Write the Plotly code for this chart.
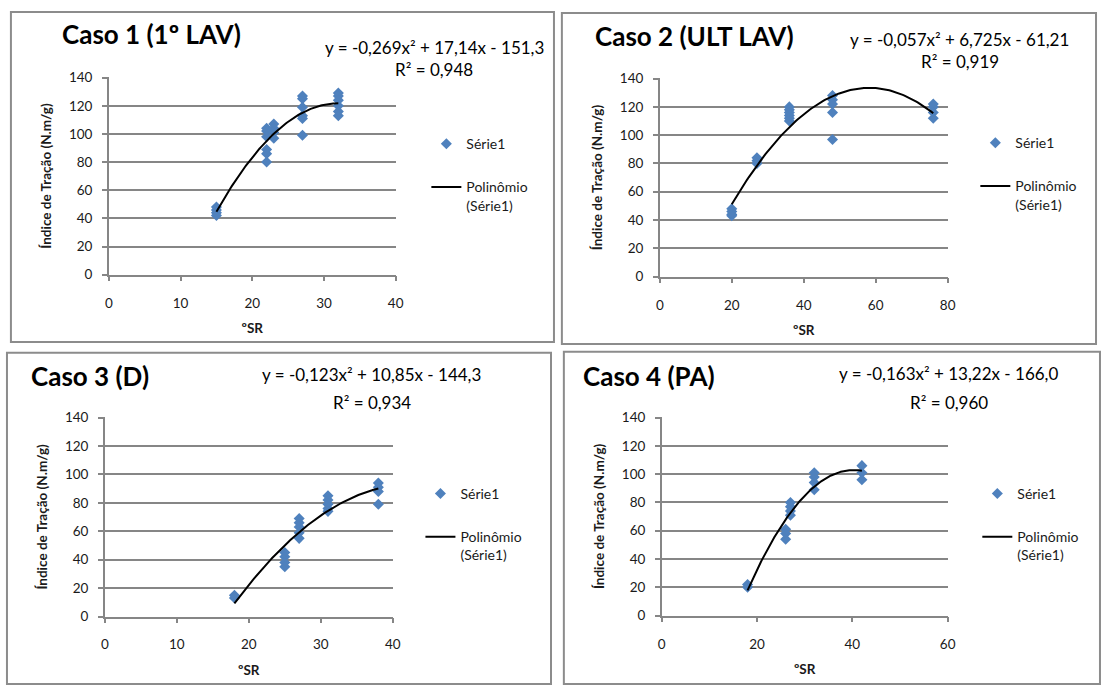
import numpy as np
import plotly.graph_objects as go

W, H = 1106, 689

# ---------------- data ----------------
case1_x = [15, 15, 15, 15, 22, 22, 22, 22, 22, 22, 23, 23, 23, 23,
           27, 27, 27, 27, 27, 27, 32, 32, 32, 32, 32, 32]
case1_y = [48, 46, 44, 42, 104, 102, 98, 89, 86, 80, 107, 104, 101, 97,
           127, 125, 119, 113, 111, 99, 129, 127, 124, 120, 116, 113]

case2_x = [20, 20, 20, 20, 27, 27, 27, 36, 36, 36, 36, 36, 36,
           48, 48, 48, 48, 48, 76, 76, 76, 76]
case2_y = [48, 46, 44, 43, 84, 82, 80, 120, 118, 116, 114, 112, 110,
           128, 125, 122, 116, 97, 122, 120, 116, 112]

case3_x = [18, 18, 25, 25, 25, 25, 27, 27, 27, 27, 27,
           31, 31, 31, 31, 31, 38, 38, 38, 38]
case3_y = [15, 13, 45, 42, 38, 35, 69, 66, 63, 59, 55,
           85, 82, 79, 76, 74, 94, 91, 88, 79]

case4_x = [18, 18, 26, 26, 26, 27, 27, 27, 27, 32, 32, 32, 32, 42, 42, 42]
case4_y = [22, 20, 61, 58, 54, 80, 77, 74, 71, 101, 98, 94, 89, 106, 101, 96]

titles = ["Caso 1 (1º LAV)", "Caso 2 (ULT LAV)", "Caso 3 (D)", "Caso 4 (PA)"]
equations = ["y = -0,269x² + 17,14x - 151,3", "y = -0,057x² + 6,725x - 61,21",
             "y = -0,123x² + 10,85x - 144,3", "y = -0,163x² + 13,22x - 166,0"]
r2_labels = ["R² = 0,948", "R² = 0,919", "R² = 0,934", "R² = 0,960"]
x_max = [40, 80, 40, 60]
x_dtick = [10, 20, 10, 20]
y_ticks = [0, 20, 40, 60, 80, 100, 120, 140]
series_name = "Série1"
trend_name = "Polinômio<br>(Série1)"
x_title = "ºSR"
y_title = "Índice de Tração (N.m/g)"

# ---------------- layout geometry (pixels) ----------------
plots = [  # x0, x1, ytop, ybottom
    (106, 396, 71, 273),
    (663, 954, 72, 275),
    (102, 393, 419, 623),
    (665, 954, 419, 622),
]
boxes = [(7, 556, 4, 342), (564, 1104, 5, 344), (3, 553, 353, 692), (566, 1108, 352, 692)]
title_pos = [(57, 27), (595, 29), (25, 377), (583, 377)]
eq_pos = [(435, 40, 63), (966, 32, 55), (372, 375, 404), (955, 374, 404)]
legend_pos = [(427, 123), (982, 122), (421, 481), (984, 481)]

FONT = "Lato, 'Open Sans', sans-serif"
GRID = "#868686"
BLUE = "#4F81BD"

def px(x):
    return x / W

def py(y):
    return 1 - y / H

fig = go.Figure()
data = [(case1_x, case1_y), (case2_x, case2_y), (case3_x, case3_y), (case4_x, case4_y)]

layout = dict(
    width=W, height=H, margin=dict(l=0, r=0, t=0, b=0),
    paper_bgcolor="white", plot_bgcolor="white",
    font=dict(family=FONT, color="#1a1a1a"),
    showlegend=True,
)
shapes = []
annotations = []

for i, (xs, ys) in enumerate(data):
    n = i + 1
    xa = "x" if n == 1 else f"x{n}"
    ya = "y" if n == 1 else f"y{n}"
    lg = "legend" if n == 1 else f"legend{n}"
    coef = np.polyfit(xs, ys, 2)
    xt = np.linspace(min(xs), max(xs), 120)
    yt = np.polyval(coef, xt)
    fig.add_trace(go.Scatter(
        x=xs, y=ys, mode="markers", name=series_name, xaxis=xa, yaxis=ya,
        legend=lg, legendgroup=f"s{n}",
        marker=dict(symbol="diamond", size=8.5, color=BLUE, line=dict(width=0)),
    ))
    fig.add_trace(go.Scatter(
        x=xt, y=yt, mode="lines", name=trend_name, xaxis=xa, yaxis=ya,
        legend=lg, legendgroup=f"t{n}",
        line=dict(color="black", width=2),
    ))
    x0, x1, yt0, yb0 = plots[i]
    layout[f"xaxis{'' if n == 1 else n}"] = dict(
        domain=[px(x0), px(x1)], anchor=ya, range=[0, x_max[i]], dtick=x_dtick[i],
        tick0=0, showgrid=False, zeroline=False, showline=True, linecolor=GRID,
        linewidth=1.5, ticks="outside", ticklen=5, tickwidth=1.5, tickcolor=GRID,
        tickfont=dict(size=13.5, family=FONT, color="#1a1a1a"), ticklabelstandoff=10,
        title=dict(text=f"<b>{x_title}</b>", font=dict(size=13.5, family=FONT, color="#1a1a1a"),
                   standoff=14),
        fixedrange=True,
    )
    layout[f"yaxis{'' if n == 1 else n}"] = dict(
        domain=[py(yb0), py(yt0)], anchor=xa, range=[0, 140.2], tickvals=y_ticks,
        showgrid=True, gridcolor=GRID, gridwidth=1.5, zeroline=False, showline=True,
        linecolor=GRID, linewidth=1.5, ticks="outside", ticklen=5, tickwidth=1.5,
        tickcolor=GRID, tickfont=dict(size=13.5, family=FONT, color="#1a1a1a"),
        ticklabelstandoff=7,
        title=dict(text=f"<b>{y_title}</b>", font=dict(size=13.5, family=FONT, color="#1a1a1a"),
                   standoff=14),
        fixedrange=True,
    )
    lx, ly = legend_pos[i]
    layout[lg] = dict(
        x=px(lx), y=py(ly), xanchor="left", yanchor="top", bgcolor="rgba(0,0,0,0)",
        font=dict(size=14, family=FONT, color="#1a1a1a"), traceorder="grouped",
        tracegroupgap=22, valign="top", borderwidth=0,
    )
    bx0, bx1, by0, by1 = boxes[i]
    shapes.append(dict(type="rect", xref="paper", yref="paper", x0=px(bx0), x1=px(bx1),
                       y0=py(by1), y1=py(by0), line=dict(color="#8c8c8c", width=2)))
    tx, ty = title_pos[i]
    annotations.append(dict(text=f"<b>{titles[i]}</b>", x=px(tx), y=py(ty), xref="paper",
                            yref="paper", xanchor="left", yanchor="middle", showarrow=False,
                            font=dict(size=26, family=FONT, color="black")))
    ex, ey, ry = eq_pos[i]
    annotations.append(dict(text=equations[i], x=px(ex), y=py(ey), xref="paper", yref="paper",
                            xanchor="center", yanchor="middle", showarrow=False,
                            font=dict(size=17, family=FONT, color="black")))
    annotations.append(dict(text=r2_labels[i], x=px(ex), y=py(ry), xref="paper", yref="paper",
                            xanchor="center", yanchor="middle", showarrow=False,
                            font=dict(size=17, family=FONT, color="black")))

layout["shapes"] = shapes
layout["annotations"] = annotations
fig.update_layout(**layout)
fig.write_html("out.html", config={"displayModeBar": False})
